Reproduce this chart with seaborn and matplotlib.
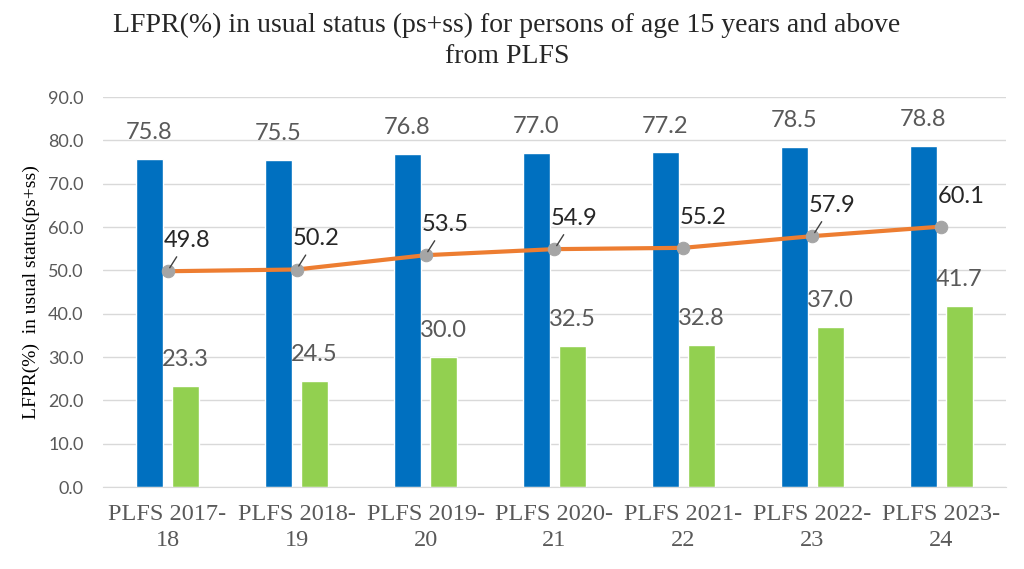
import pandas as pd
import numpy as np
import matplotlib
matplotlib.use("Agg")
import matplotlib.pyplot as plt
import seaborn as sns

periods = ["PLFS 2017-\n18", "PLFS 2018-\n19", "PLFS 2019-\n20", "PLFS 2020-\n21",
           "PLFS 2021-\n22", "PLFS 2022-\n23", "PLFS 2023-\n24"]
male = [75.8, 75.5, 76.8, 77.0, 77.2, 78.5, 78.8]
female = [23.3, 24.5, 30.0, 32.5, 32.8, 37.0, 41.7]
total = [49.8, 50.2, 53.5, 54.9, 55.2, 57.9, 60.1]
leader = [True, True, True, True, False, True, False]

sns.set_style('white')
plt.rcParams['font.family'] = ['Lato', 'DejaVu Sans']

data = pd.DataFrame({
    'period': periods * 2,
    'value': male + female,
    'group': ['Male'] * len(male) + ['Female'] * len(female),
})

fig = plt.figure(figsize=(10.24, 5.69), dpi=100)
ax = fig.add_axes([0.1006, 0.144, 0.8818, 0.6855])

sns.barplot(data=data, x='period', y='value', hue='group', hue_order=['Male', 'Female'],
            palette=['#0070C0', '#92D050'], saturation=1, width=0.56, gap=0.25,
            errorbar=None, legend=False, ax=ax, zorder=2)

pos = np.arange(len(periods))
sns.lineplot(x=pos, y=total, ax=ax, color='#ED7D31', lw=3, marker='o', markersize=9,
             markerfacecolor='#A5A5A5', markeredgecolor='#A5A5A5', zorder=3)

# bar labels
for bars in ax.containers:
    for b in bars:
        h = b.get_height()
        ax.annotate(f"{h:.1f}", (b.get_x() + b.get_width() / 2, h), xytext=(0, 19),
                    textcoords='offset points', ha='center', va='center',
                    fontsize=17, color='#595959', zorder=4)

# line labels
for x, v, ld in zip(pos, total, leader):
    ax.annotate(f"{v:.1f}", (x, v), xytext=(14, 22), textcoords='offset points',
                ha='center', va='center', fontsize=17, color='#262626', zorder=5,
                arrowprops=dict(arrowstyle='-', color='#404040', lw=1, shrinkA=2, shrinkB=3)
                if ld else None)

ax.set_ylim(0, 90)
ax.set_xlim(-0.5, len(periods) - 0.5)
ax.set_yticks(np.arange(0, 91, 10))
ax.set_yticklabels([f"{t:.1f}" for t in np.arange(0, 91, 10)], fontsize=13, color='#595959')
ax.set_xticks(pos)
ax.set_xticklabels(periods, fontsize=17.5, color='#595959', family='Liberation Serif',
                   linespacing=1.35)
ax.tick_params(axis='both', length=0)
ax.tick_params(axis='x', pad=12)
ax.tick_params(axis='y', pad=14)
ax.yaxis.grid(True, color='#D9D9D9', lw=1)
ax.set_axisbelow(True)
for s in ['top', 'right', 'left']:
    ax.spines[s].set_visible(False)
ax.spines['bottom'].set_color('#D9D9D9')
ax.set_xlabel('')
ax.set_ylabel('LFPR(%)  in usual status(ps+ss)', family='Liberation Serif', fontsize=14,
              color='#000000', labelpad=6)

fig.text(0.495, 0.928, 'LFPR(%) in usual status (ps+ss) for persons of age 15 years and above\nfrom PLFS',
         ha='center', va='center', family='Liberation Serif', fontsize=20, color='#262626',
         linespacing=1.35)

fig.savefig('out.png', dpi=100)
